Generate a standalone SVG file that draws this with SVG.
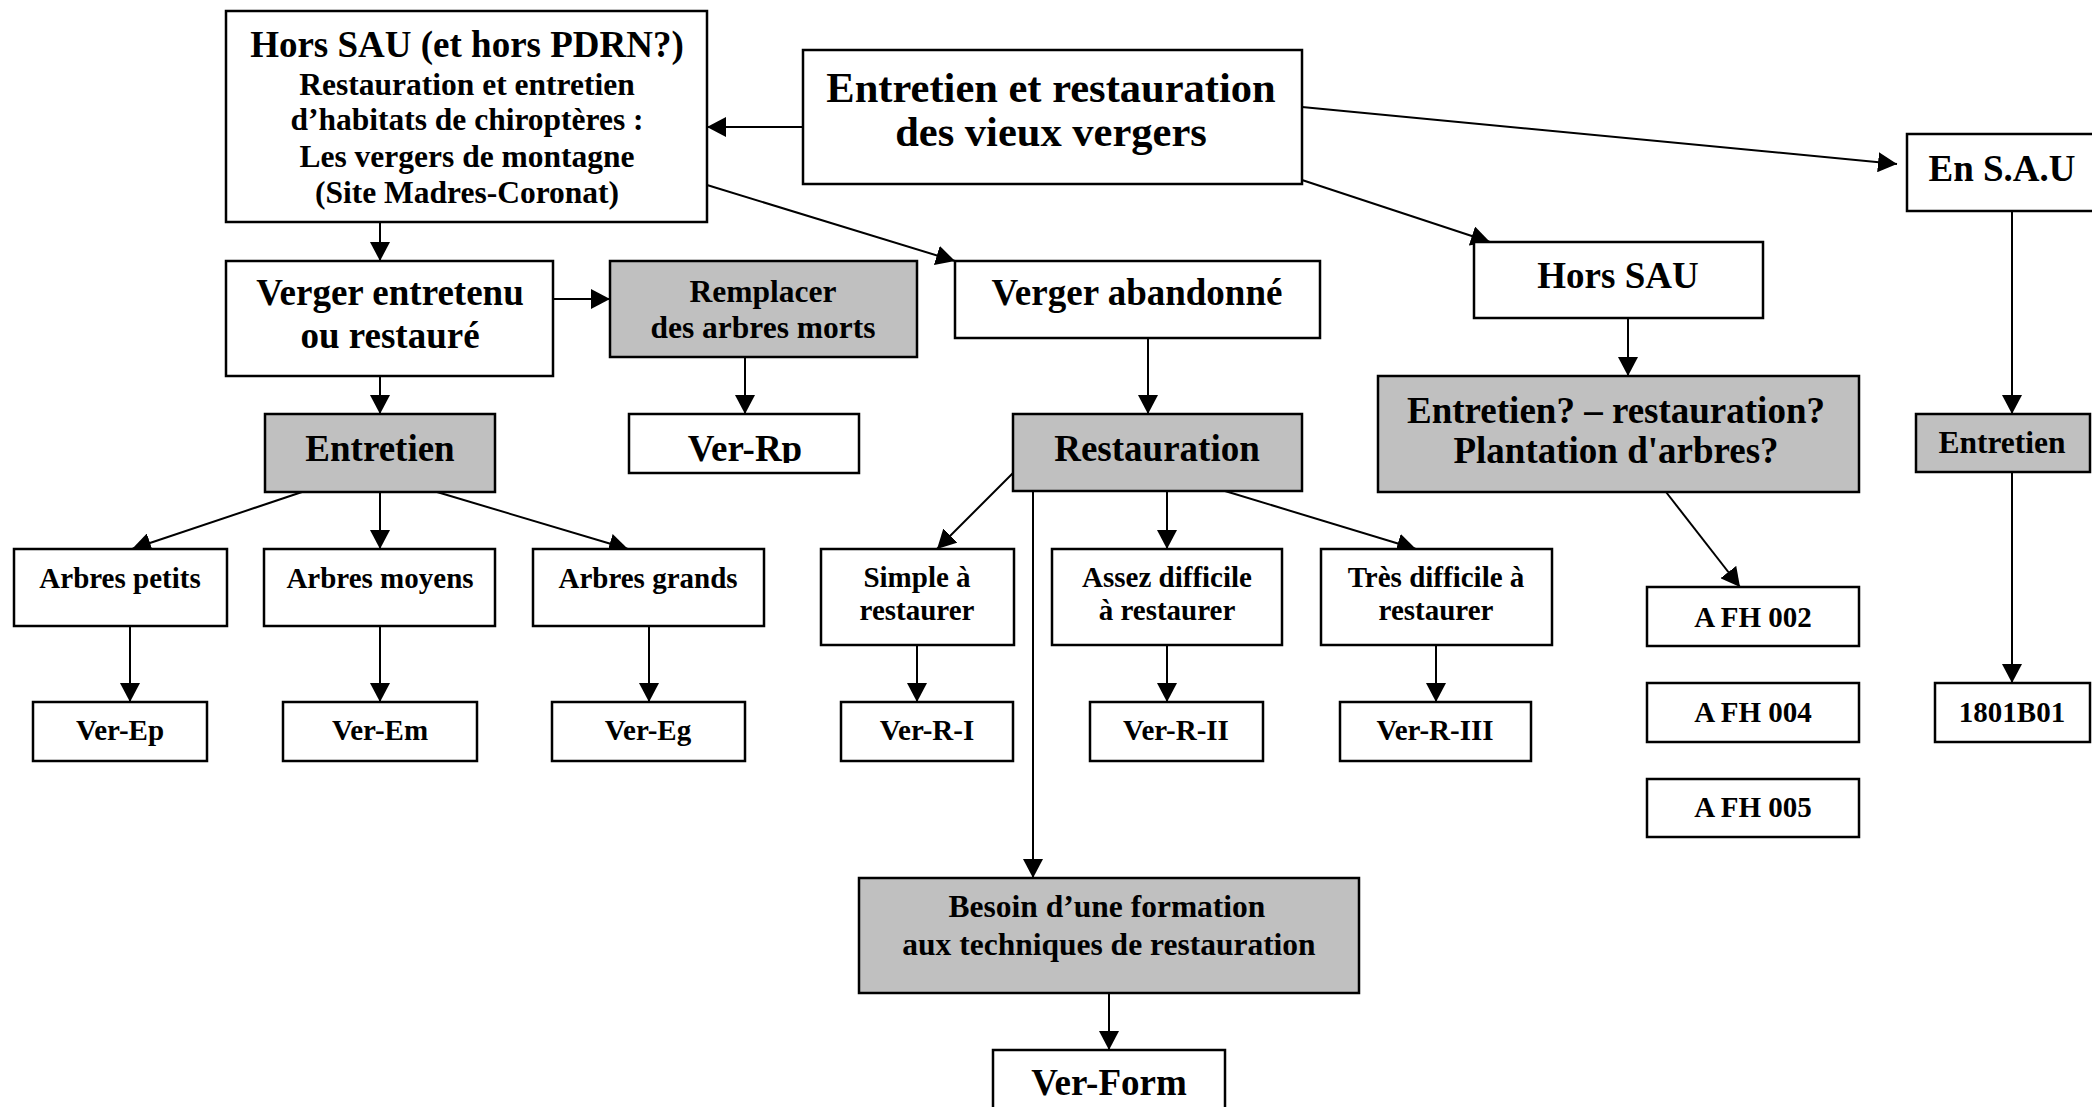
<svg xmlns="http://www.w3.org/2000/svg" width="2092" height="1107" viewBox="0 0 2092 1107">
<style>
.box{fill:#fff;stroke:#000;stroke-width:2.5}
.gray{fill:#c0c0c0;stroke:#000;stroke-width:2.5}
text{font-family:"Liberation Serif","Times New Roman",serif;font-weight:bold;fill:#000;text-anchor:middle}
.t43{font-size:42.5px}
.t37{font-size:37px}
.t32{font-size:31.5px}
.t29{font-size:29px}
.conn line{stroke:#000;stroke-width:2;marker-end:url(#arr)}
</style>
<defs>
<marker id="arr" markerUnits="userSpaceOnUse" viewBox="0 0 19 20" refX="19" refY="10" markerWidth="19" markerHeight="20" orient="auto">
<path d="M0,0 L19,10 L0,20 z" fill="#000"/>
</marker>
<clipPath id="cliprp"><rect x="629" y="414" width="230" height="49"/></clipPath>
</defs>
<rect width="2092" height="1107" fill="#fff"/>

<g id="connectors" class="conn">
<line x1="802" y1="127" x2="707" y2="127"/>
<line x1="1302" y1="107" x2="1897" y2="164"/>
<line x1="1302" y1="180" x2="1490" y2="242"/>
<line x1="707" y1="185" x2="955" y2="261"/>
<line x1="380" y1="222" x2="380" y2="261"/>
<line x1="553" y1="299" x2="610" y2="299"/>
<line x1="380" y1="376" x2="380" y2="414"/>
<line x1="745" y1="357" x2="745" y2="414"/>
<line x1="1148" y1="338" x2="1148" y2="414"/>
<line x1="1628" y1="318" x2="1628" y2="376"/>
<line x1="2012" y1="211" x2="2012" y2="414"/>
<line x1="302" y1="492" x2="132" y2="549"/>
<line x1="380" y1="492" x2="380" y2="549"/>
<line x1="437" y1="492" x2="628" y2="549"/>
<line x1="1013" y1="473" x2="937" y2="549"/>
<line x1="1033" y1="491" x2="1033" y2="878"/>
<line x1="1167" y1="491" x2="1167" y2="549"/>
<line x1="1225" y1="491" x2="1416" y2="549"/>
<line x1="1666" y1="492" x2="1740" y2="587"/>
<line x1="2012" y1="472" x2="2012" y2="683"/>
<line x1="130" y1="626" x2="130" y2="702"/>
<line x1="380" y1="626" x2="380" y2="702"/>
<line x1="649" y1="626" x2="649" y2="702"/>
<line x1="917" y1="645" x2="917" y2="702"/>
<line x1="1167" y1="645" x2="1167" y2="702"/>
<line x1="1436" y1="645" x2="1436" y2="702"/>
<line x1="1109" y1="993" x2="1109" y2="1050"/>
</g>

<g id="n-hors-sau-pdrn">
<rect class="box" x="226" y="11" width="481" height="211"/>
<text class="t37" x="467" y="57">Hors SAU (et hors PDRN?)</text>
<text class="t32" x="467" y="95">Restauration et entretien</text>
<text class="t32" x="467" y="130">d’habitats de chiroptères :</text>
<text class="t32" x="467" y="167">Les vergers de montagne</text>
<text class="t32" x="467" y="203">(Site Madres-Coronat)</text>
</g>
<g id="n-entretien-restauration">
<rect class="box" x="803" y="50" width="499" height="134"/>
<text class="t43" x="1051" y="102">Entretien et restauration</text>
<text class="t43" x="1051" y="146">des vieux vergers</text>
</g>
<g id="n-en-sau">
<rect class="box" x="1907" y="134" width="191" height="77"/>
<text class="t37" x="2002" y="181">En S.A.U</text>
</g>
<g id="n-hors-sau">
<rect class="box" x="1474" y="242" width="289" height="76"/>
<text class="t37" x="1618" y="288">Hors SAU</text>
</g>
<g id="n-verger-entretenu">
<rect class="box" x="226" y="261" width="327" height="115"/>
<text class="t37" x="390" y="305">Verger entretenu</text>
<text class="t37" x="390" y="348">ou restauré</text>
</g>
<g id="n-remplacer">
<rect class="gray" x="610" y="261" width="307" height="96"/>
<text class="t32" x="763" y="302">Remplacer</text>
<text class="t32" x="763" y="338">des arbres morts</text>
</g>
<g id="n-verger-abandonne">
<rect class="box" x="955" y="261" width="365" height="77"/>
<text class="t37" x="1137" y="305">Verger abandonné</text>
</g>
<g id="n-entretien-left">
<rect class="gray" x="265" y="414" width="230" height="78"/>
<text class="t37" x="380" y="461">Entretien</text>
</g>
<g id="n-ver-rp">
<rect class="box" x="629" y="414" width="230" height="59"/>
<text class="t37" x="745" y="461" clip-path="url(#cliprp)">Ver-Rp</text>
</g>
<g id="n-restauration">
<rect class="gray" x="1013" y="414" width="289" height="77"/>
<text class="t37" x="1157" y="461">Restauration</text>
</g>
<g id="n-entretien-question">
<rect class="gray" x="1378" y="376" width="481" height="116"/>
<text class="t37" x="1616" y="423">Entretien? – restauration?</text>
<text class="t37" x="1616" y="463">Plantation d'arbres?</text>
</g>
<g id="n-entretien-right">
<rect class="gray" x="1916" y="414" width="174" height="58"/>
<text class="t32" x="2002" y="453">Entretien</text>
</g>

<g id="n-arbres-petits">
<rect class="box" x="14" y="549" width="213" height="77"/>
<text class="t29" x="120" y="588">Arbres petits</text>
</g>
<g id="n-arbres-moyens">
<rect class="box" x="264" y="549" width="231" height="77"/>
<text class="t29" x="380" y="588">Arbres moyens</text>
</g>
<g id="n-arbres-grands">
<rect class="box" x="533" y="549" width="231" height="77"/>
<text class="t29" x="648" y="588">Arbres grands</text>
</g>
<g id="n-simple">
<rect class="box" x="821" y="549" width="193" height="96"/>
<text class="t29" x="917" y="587">Simple à</text>
<text class="t29" x="917" y="620">restaurer</text>
</g>
<g id="n-assez">
<rect class="box" x="1052" y="549" width="230" height="96"/>
<text class="t29" x="1167" y="587">Assez difficile</text>
<text class="t29" x="1167" y="620">à restaurer</text>
</g>
<g id="n-tres">
<rect class="box" x="1321" y="549" width="231" height="96"/>
<text class="t29" x="1436" y="587">Très difficile à</text>
<text class="t29" x="1436" y="620">restaurer</text>
</g>
<g id="n-afh002">
<rect class="box" x="1647" y="587" width="212" height="59"/>
<text class="t29" x="1753" y="627">A FH 002</text>
</g>
<g id="n-afh004">
<rect class="box" x="1647" y="683" width="212" height="59"/>
<text class="t29" x="1753" y="722">A FH 004</text>
</g>
<g id="n-afh005">
<rect class="box" x="1647" y="779" width="212" height="58"/>
<text class="t29" x="1753" y="817">A FH 005</text>
</g>
<g id="n-1801b01">
<rect class="box" x="1935" y="683" width="155" height="59"/>
<text class="t29" x="2012" y="722">1801B01</text>
</g>

<g id="n-ver-ep">
<rect class="box" x="33" y="702" width="174" height="59"/>
<text class="t29" x="120" y="740">Ver-Ep</text>
</g>
<g id="n-ver-em">
<rect class="box" x="283" y="702" width="194" height="59"/>
<text class="t29" x="380" y="740">Ver-Em</text>
</g>
<g id="n-ver-eg">
<rect class="box" x="552" y="702" width="193" height="59"/>
<text class="t29" x="648" y="740">Ver-Eg</text>
</g>
<g id="n-ver-r-i">
<rect class="box" x="841" y="702" width="172" height="59"/>
<text class="t29" x="927" y="740">Ver-R-I</text>
</g>
<g id="n-ver-r-ii">
<rect class="box" x="1090" y="702" width="173" height="59"/>
<text class="t29" x="1176" y="740">Ver-R-II</text>
</g>
<g id="n-ver-r-iii">
<rect class="box" x="1340" y="702" width="191" height="59"/>
<text class="t29" x="1435" y="740">Ver-R-III</text>
</g>

<g id="n-besoin">
<rect class="gray" x="859" y="878" width="500" height="115"/>
<text class="t32" x="1107" y="917">Besoin d’une formation</text>
<text class="t32" x="1109" y="955">aux techniques de restauration</text>
</g>
<g id="n-ver-form">
<rect class="box" x="993" y="1050" width="232" height="70"/>
<text class="t37" x="1109" y="1095">Ver-Form</text>
</g>
</svg>
